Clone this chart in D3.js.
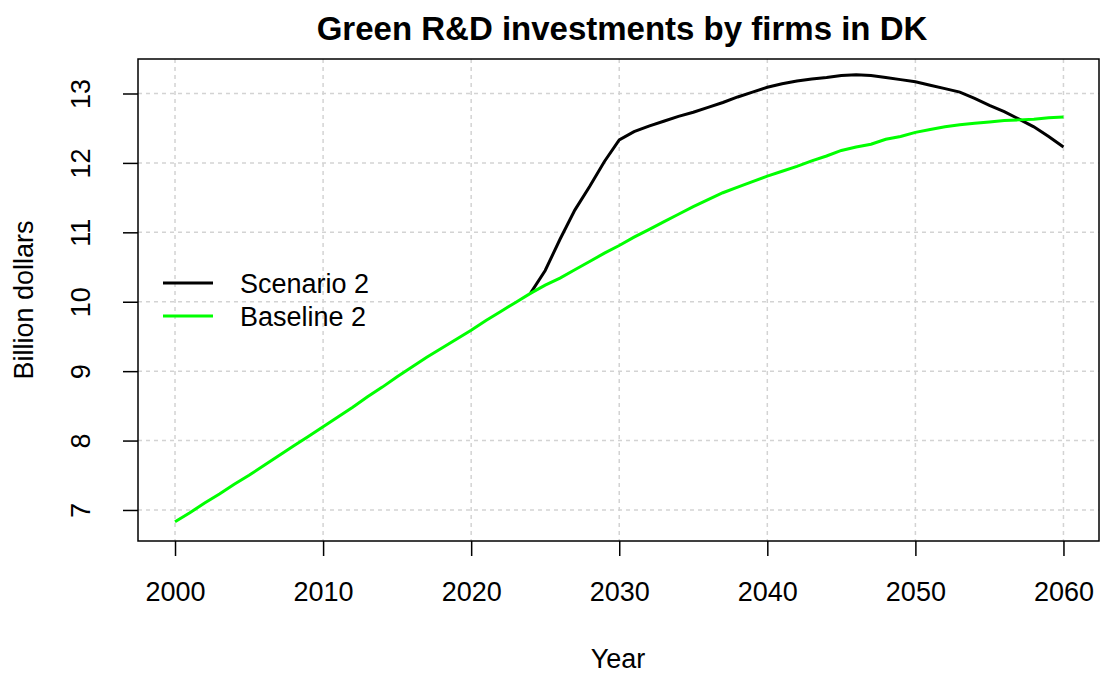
<!DOCTYPE html>
<html>
<head>
<meta charset="utf-8">
<script src="https://cdn.jsdelivr.net/npm/d3@7"></script>
<style>
  body { margin: 0; background: #fff; }
  svg { display: block; font-family: "Liberation Sans", Arial, sans-serif; }
</style>
</head>
<body>
<svg id="chart" width="1100" height="673"></svg>
<script>
// years on the x axis
let years = d3.range(2000, 2061)

// Baseline 2 (green), one value per year 2000..2060, billion dollars
let baseline = [
  6.83, 6.96, 7.10, 7.23, 7.37, 7.50, 7.64, 7.78, 7.92, 8.06,
  8.20, 8.34, 8.48, 8.63, 8.77, 8.92, 9.06, 9.20, 9.33, 9.46,
  9.59, 9.73, 9.86, 9.99, 10.12, 10.24, 10.34, 10.46, 10.58, 10.70,
  10.81, 10.93, 11.04, 11.15, 11.26, 11.37, 11.47, 11.57, 11.65, 11.73,
  11.81, 11.88, 11.95, 12.03, 12.10, 12.18, 12.23, 12.27, 12.34, 12.38,
  12.44, 12.48, 12.52, 12.55, 12.57, 12.59, 12.61, 12.62, 12.63, 12.65,
  12.66
]

// Scenario 2 (black), starts in 2024
let scenarioYears = d3.range(2024, 2061)
let scenario = [
  10.12, 10.45, 10.90, 11.32, 11.66, 12.02, 12.33, 12.45, 12.53, 12.60,
  12.67, 12.73, 12.80, 12.87, 12.95, 13.02, 13.09, 13.14, 13.18, 13.21,
  13.23, 13.26, 13.27, 13.26, 13.23, 13.20, 13.17, 13.12, 13.07, 13.02,
  12.93, 12.83, 12.74, 12.63, 12.52, 12.38, 12.23
]

let xTicks = [2000, 2010, 2020, 2030, 2040, 2050, 2060]
let yTicks = [7, 8, 9, 10, 11, 12, 13]

let legendLabels = ["Scenario 2", "Baseline 2"]
let legendColors = ["#000000", "#00ff00"]

let svg = d3.select("#chart")

let plotLeft = 138, plotRight = 1099, plotTop = 59, plotBottom = 541

let x = d3.scaleLinear().domain([1997.5, 2062.4]).range([plotLeft, plotRight])
let y = d3.scaleLinear().domain([6.553, 13.497]).range([plotBottom, plotTop])

// grid
let grid = svg.append("g")
    .attr("stroke", "#d3d3d3")
    .attr("stroke-width", 1.5)
    .attr("stroke-dasharray", "4,4")

grid.selectAll("line.v")
    .data(xTicks)
    .join("line")
        .attr("class", "v")
        .attr("x1", d => x(d)).attr("x2", d => x(d))
        .attr("y1", plotTop).attr("y2", plotBottom)

grid.selectAll("line.h")
    .data(yTicks)
    .join("line")
        .attr("class", "h")
        .attr("x1", plotLeft).attr("x2", plotRight)
        .attr("y1", d => y(d)).attr("y2", d => y(d))

// axes
let xAxis = svg.append("g")
    .attr("transform", `translate(0,${plotBottom})`)
    .call(d3.axisBottom(x).tickValues(xTicks).tickFormat(d3.format("d")).tickSize(15))

let yAxis = svg.append("g")
    .attr("transform", `translate(${plotLeft},0)`)
    .call(d3.axisLeft(y).tickValues(yTicks).tickFormat(d3.format("d")).tickSize(15))

for (let ax of [xAxis, yAxis]) {
    ax.select(".domain").remove()
    ax.selectAll(".tick line").attr("stroke", "#000").attr("stroke-width", 1.5)
    ax.selectAll(".tick text")
        .attr("fill", "#000")
        .style("font-size", "27px")
        .style("font-family", "Liberation Sans, Arial, sans-serif")
}

xAxis.selectAll(".tick text")
    .attr("y", 0)
    .attr("dy", 0)
    .attr("transform", "translate(0,60)")

yAxis.selectAll(".tick text")
    .attr("x", 0)
    .attr("dy", 0)
    .attr("text-anchor", "middle")
    .attr("transform", "translate(-48,0) rotate(-90)")

// lines
let line = d3.line()
    .x(d => x(d[0]))
    .y(d => y(d[1]))

svg.append("path")
    .datum(d3.zip(scenarioYears, scenario))
    .attr("fill", "none")
    .attr("stroke", legendColors[0])
    .attr("stroke-width", 3)
    .attr("d", line)

svg.append("path")
    .datum(d3.zip(years, baseline))
    .attr("fill", "none")
    .attr("stroke", legendColors[1])
    .attr("stroke-width", 3)
    .attr("d", line)

// box
svg.append("rect")
    .attr("x", plotLeft).attr("y", plotTop)
    .attr("width", plotRight - plotLeft).attr("height", plotBottom - plotTop)
    .attr("fill", "none")
    .attr("stroke", "#000")
    .attr("stroke-width", 1.5)

// legend
let legend = svg.append("g")
    .selectAll("g")
    .data(legendLabels)
    .join("g")
        .attr("transform", (d, i) => `translate(163,${283 + i * 33})`)

legend.append("line")
    .attr("x1", 0).attr("x2", 50)
    .attr("stroke", (d, i) => legendColors[i])
    .attr("stroke-width", 3)

legend.append("text")
    .attr("x", 77)
    .attr("y", 10)
    .style("font-size", "27px")
    .text(d => d)

// titles
svg.append("text")
    .attr("x", 622)
    .attr("y", 40)
    .attr("text-anchor", "middle")
    .style("font-size", "33px")
    .style("font-weight", "bold")
    .text("Green R&D investments by firms in DK")

svg.append("text")
    .attr("x", 618)
    .attr("y", 668)
    .attr("text-anchor", "middle")
    .style("font-size", "27px")
    .text("Year")

svg.append("text")
    .attr("transform", `translate(33,${(plotTop + plotBottom) / 2}) rotate(-90)`)
    .attr("text-anchor", "middle")
    .style("font-size", "27px")
    .text("Billion dollars")
</script>
</body>
</html>
